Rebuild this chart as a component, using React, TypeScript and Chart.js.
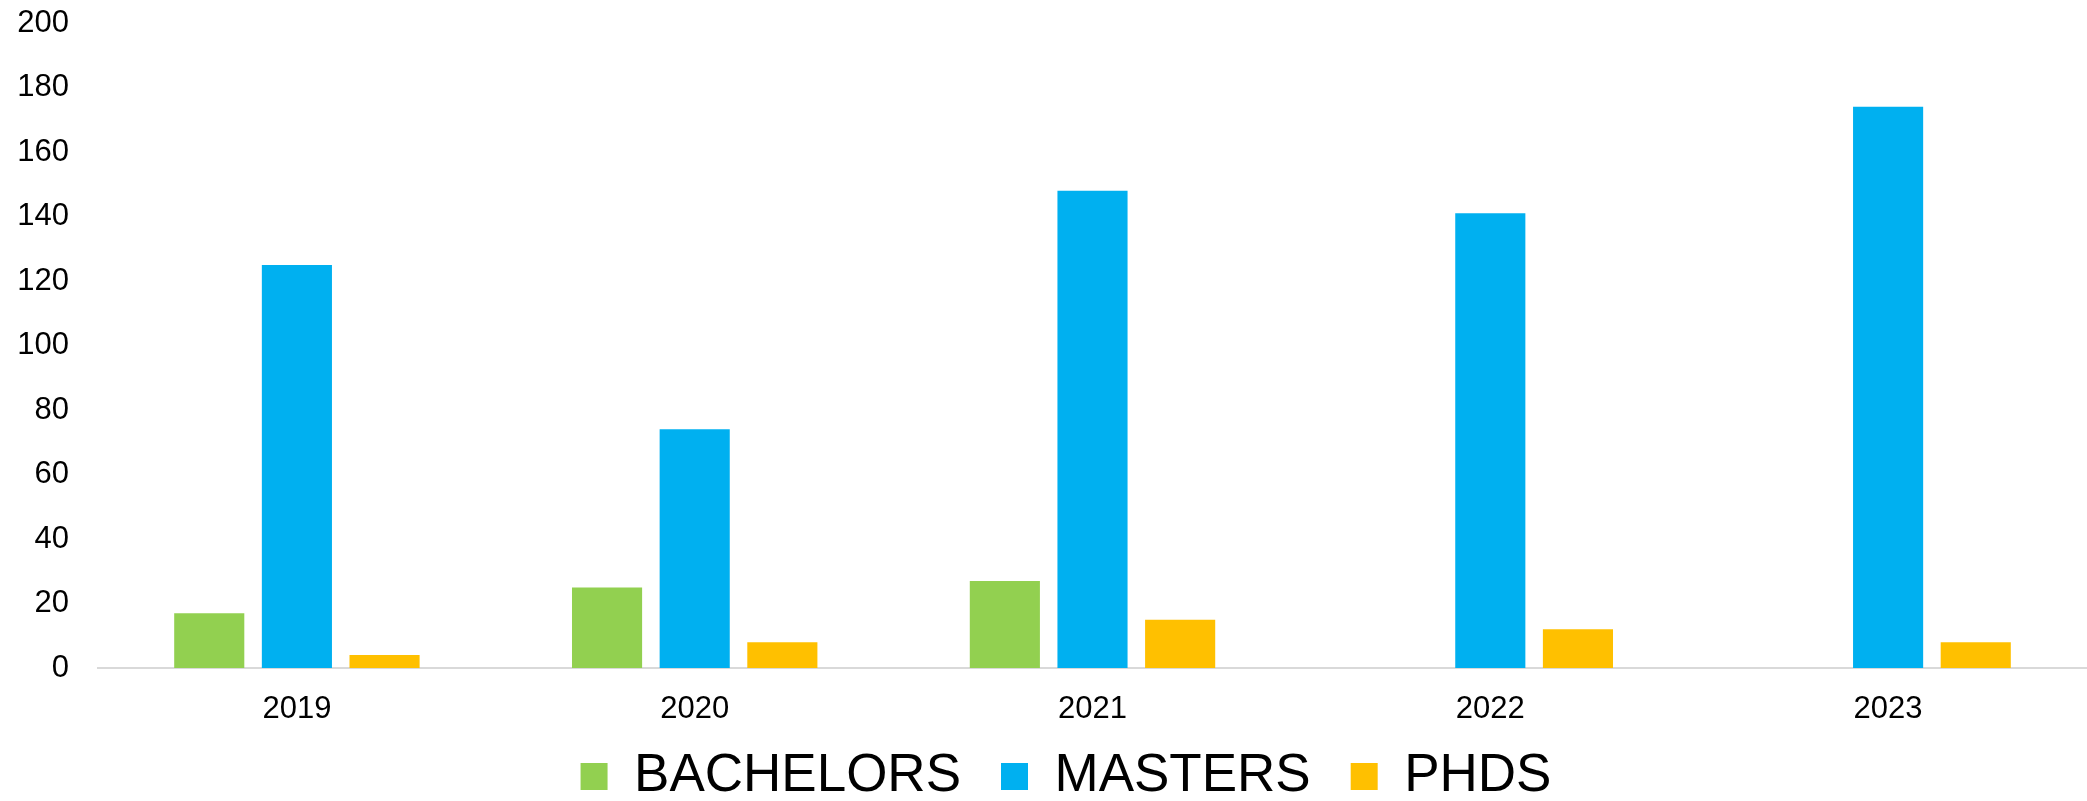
import React, { useEffect, useRef } from "react";
import { Chart, registerables } from "chart.js";

Chart.register(...registerables);

const categories = ["2019", "2020", "2021", "2022", "2023"];
const bachelors: (number | null)[] = [17, 25, 27, null, null];
const masters = [125, 74, 148, 141, 174];
const phds = [4, 8, 15, 12, 8];
const yTicks = [0, 20, 40, 60, 80, 100, 120, 140, 160, 180, 200];

const FONT = "'Liberation Sans', Arial, sans-serif";

// Let tick labels draw outside their (deliberately tight) axis boxes.
const labelRoomPlugin = {
  id: "labelRoom",
  afterLayout(chart: any) {
    const x = chart.scales.x;
    if (x) x.bottom = chart.height;
    const y = chart.scales.y;
    if (y) y.left = 0;
  },
};

export default function App() {
  const ref = useRef<HTMLCanvasElement | null>(null);
  useEffect(() => {
    document.body.style.margin = "0";
    if (!ref.current) return;
    const chart = new Chart(ref.current, {
      type: "bar",
      data: {
        labels: categories,
        datasets: [
          { label: "BACHELORS", data: bachelors, backgroundColor: "#92D050" },
          { label: "MASTERS", data: masters, backgroundColor: "#00B0F0" },
          { label: "PHDS", data: phds, backgroundColor: "#FFC000" },
        ],
      },
      options: {
        animation: false,
        responsive: false,
        maintainAspectRatio: false,
        layout: { padding: { top: 23, bottom: -12, left: 45, right: 0 } },
        datasets: {
          bar: { categoryPercentage: 0.661, barPercentage: 0.8 },
        },
        plugins: {
          tooltip: { enabled: false },
          legend: {
            position: "bottom",
            labels: {
              boxWidth: 27,
              boxHeight: 27,
              padding: 40,
              color: "#000",
              font: { family: FONT, size: 53 },
            },
          },
        },
        scales: {
          x: {
            grid: { display: false, drawTicks: false },
            border: { display: true, color: "#D9D9D9", width: 2 },
            ticks: { color: "#000", padding: 23, font: { family: FONT, size: 31 } },
            afterFit(scale: any) {
              scale.height = 42;
            },
          },
          y: {
            min: 0,
            max: 200,
            grid: { display: false, drawTicks: false },
            border: { display: false },
            afterBuildTicks(scale: any) {
              scale.ticks = yTicks.map((v) => ({ value: v }));
            },
            ticks: { color: "#000", padding: 29, font: { family: FONT, size: 31 } },
            afterFit(scale: any) {
              scale.width = 53;
              scale.paddingTop = 0;
              scale.paddingBottom = 0;
            },
          },
        },
      },
      plugins: [labelRoomPlugin],
    });
    return () => chart.destroy();
  }, []);
  return (
    <div style={{ width: 2087, height: 801 }}>
      <canvas ref={ref} width={2087} height={801} style={{ width: 2087, height: 801, display: "block" }} />
    </div>
  );
}
